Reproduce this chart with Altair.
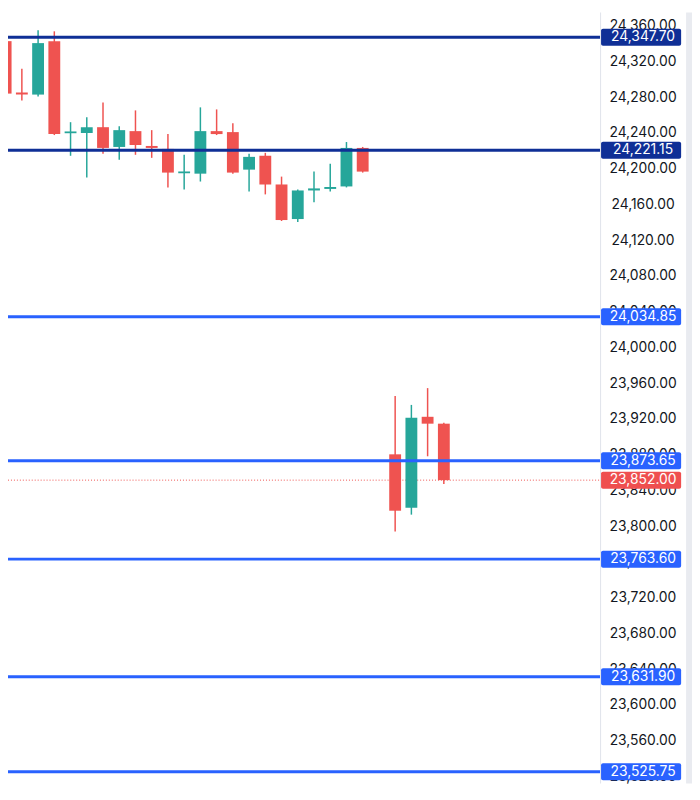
import altair as alt
import pandas as pd

# ---- data ----
idx = list(range(0, 23)) + [24, 25, 26, 27]
open_ = [24343.3, 24285.8, 24283.5, 24343.3, 24240.4, 24240.4, 24247.0, 24224.9, 24242.6, 24226.0,
         24222.7, 24195.6, 24195.0, 24242.6, 24241.5, 24199.5, 24215.0, 24182.9, 24144.2, 24176.2,
         24177.9, 24180.7, 24223.8, 23880.9, 23821.1, 23922.9, 23915.2]
high = [24356.5, 24312.3, 24355.4, 24354.3, 24252.6, 24258.1, 24274.7, 24248.1, 24265.8, 24243.7,
        24239.3, 24216.1, 24269.2, 24266.9, 24251.5, 24217.2, 24218.3, 24191.7, 24177.3, 24197.3,
        24206.1, 24230.4, 24224.9, 23946.1, 23936.2, 23955.0, 23916.3]
low = [24281.3, 24276.9, 24281.3, 24238.2, 24215.0, 24190.6, 24217.2, 24210.5, 24216.1, 24212.7,
       24179.6, 24177.3, 24186.2, 24238.2, 24195.0, 24175.1, 24171.8, 24142.0, 24141.0, 24163.0,
       24175.1, 24179.6, 24196.2, 23794.6, 23813.4, 23878.7, 23847.7]
close = [24284.6, 24283.5, 24341.1, 24239.3, 24242.1, 24247.0, 24223.8, 24243.7, 24227.1, 24223.8,
         24196.2, 24197.3, 24242.6, 24239.3, 24196.2, 24213.8, 24182.9, 24143.1, 24176.2, 24178.5,
         24180.1, 24223.8, 24197.3, 23817.8, 23921.8, 23915.2, 23852.0]

levels_dark = [24347.70, 24221.15]
levels_blue = [24034.85, 23873.65, 23763.60, 23631.90, 23525.75]
last_price = [23852.00]
tick_values = [24360 - 40 * k for k in range(22)]

# ---- layout: chart sits at the page's 8px margin, drawn 1:1 ----
W, H = 692, 780
X_DOM = [0.146, 42.290]
Y_DOM = [23512.52, 24375.35]
px_per_unit = H / (Y_DOM[1] - Y_DOM[0])

xs = alt.Scale(domain=X_DOM, range=[0, W], nice=False, zero=False)
ys = alt.Scale(domain=Y_DOM, range=[H, 0], nice=False, zero=False)

GREEN, RED = "#26a69a", "#ef5350"
NAVY, BLUE, LRED = "#0f2f96", "#2962ff", "#ef4f4f"

c = pd.DataFrame({"i": idx, "open": open_, "high": high, "low": low, "close": close})
c["color"] = [GREEN if cl >= op else RED for op, cl in zip(c["open"], c["close"])]
hi_b = c[["open", "close"]].max(axis=1)
lo_b = c[["open", "close"]].min(axis=1)
min_h = 1.8 / px_per_unit
mid = (hi_b + lo_b) / 2
c["bt"] = [max(h, m + min_h / 2) for h, m in zip(hi_b, mid)]
c["bb"] = [min(l, m - min_h / 2) for l, m in zip(lo_b, mid)]
c["x1"] = c["i"] - 0.365
c["x2"] = c["i"] + 0.365

X = lambda f: alt.X(f, type="quantitative", scale=xs, axis=None)
Y = lambda f: alt.Y(f, type="quantitative", scale=ys, axis=None)

wicks = alt.Chart(c).mark_rule(strokeWidth=1.5).encode(
    x=X("i"), y=Y("low"), y2="high", color=alt.Color("color:N", scale=None))
bodies = alt.Chart(c).mark_rect().encode(
    x=X("x1"), x2="x2", y=Y("bb"), y2="bt", color=alt.Color("color:N", scale=None))

lv = pd.DataFrame({
    "v": levels_dark + levels_blue,
    "col": [NAVY] * len(levels_dark) + [BLUE] * len(levels_blue),
})
lv["lab"] = [f"{v:,.2f}" for v in lv["v"]]
half = 8.6 / px_per_unit
lv["lo"] = lv["v"] - half
lv["hi"] = lv["v"] + half

lp = pd.DataFrame({"v": last_price})
lp["lab"] = [f"{v:,.2f}" for v in lp["v"]]
lp["lo"] = lp["v"] - half
lp["hi"] = lp["v"] + half

AX = 599.5  # price-axis border
lines = alt.Chart(lv).mark_rule(strokeWidth=3).encode(
    x=alt.value(0), x2=alt.value(AX), y=Y("v"), color=alt.Color("col:N", scale=None))
lastline = alt.Chart(lp).mark_rule(strokeWidth=1, strokeDash=[1, 2], color=RED).encode(
    x=alt.value(0), x2=alt.value(AX), y=Y("v"))

tk = pd.DataFrame({"v": tick_values})
tk["lab"] = [f"{v:,.2f}" for v in tk["v"]]

axis_bg = alt.Chart(pd.DataFrame({"a": [0]})).mark_rect(color="white").encode(
    x=alt.value(AX), x2=alt.value(W), y=alt.value(0), y2=alt.value(H))
border = alt.Chart(pd.DataFrame({"a": [0]})).mark_rule(color="#e0e3eb", strokeWidth=1).encode(
    x=alt.value(AX), y=alt.value(0), y2=alt.value(H))
strip = alt.Chart(pd.DataFrame({"a": [0]})).mark_rect(color="#e9ebf0").encode(
    x=alt.value(686), x2=alt.value(W), y=alt.value(0), y2=alt.value(H))

FONT = "Inter"
FS = 14
TX = 642.5
ticks = alt.Chart(tk).mark_text(align="center", baseline="middle", fontSize=FS,
                                font=FONT, color="#131722").encode(
    x=alt.value(TX), y=Y("v"), text="lab:N")

badges = alt.Chart(lv).mark_rect(cornerRadius=2).encode(
    x=alt.value(600), x2=alt.value(681), y=Y("lo"), y2="hi",
    color=alt.Color("col:N", scale=None))
badge_txt = alt.Chart(lv).mark_text(align="center", baseline="middle", fontSize=FS,
                                    font=FONT, color="white").encode(
    x=alt.value(TX), y=Y("v"), text="lab:N")
lp_badge = alt.Chart(lp).mark_rect(cornerRadius=2, color=LRED).encode(
    x=alt.value(600), x2=alt.value(681), y=Y("lo"), y2="hi")
lp_txt = alt.Chart(lp).mark_text(align="center", baseline="middle", fontSize=FS,
                                 font=FONT, color="white").encode(
    x=alt.value(TX), y=Y("v"), text="lab:N")

chart = alt.layer(
    lastline, wicks, bodies, lines, axis_bg, border, strip, ticks,
    badges, badge_txt, lp_badge, lp_txt
).properties(
    width=W, height=H, background="white", padding=0,
    autosize=alt.AutoSizeParams(type="none"),
).configure_view(stroke=None)

chart.save("out.html", embed_options={"renderer": "svg", "actions": False})
